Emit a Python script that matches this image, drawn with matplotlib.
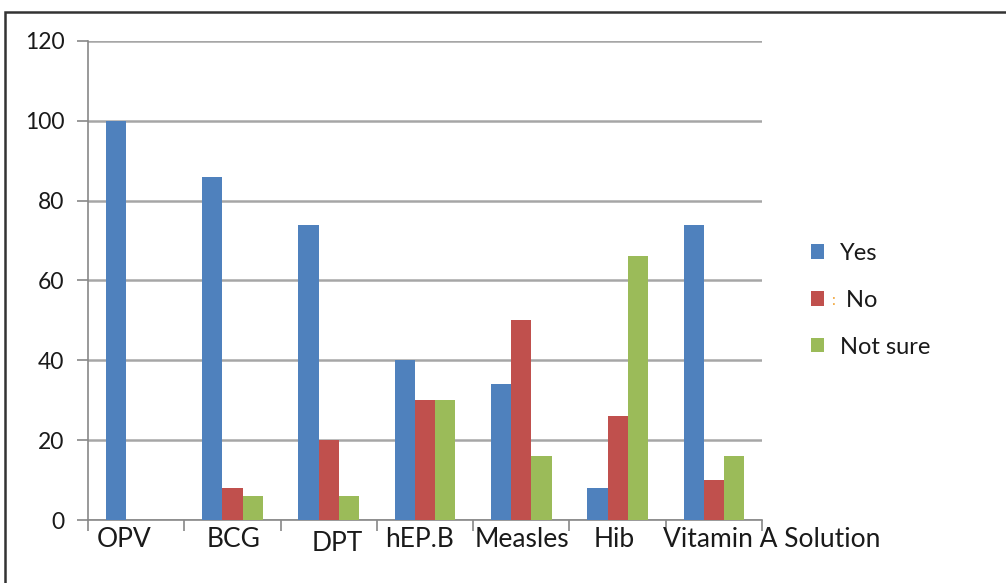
import matplotlib
matplotlib.use("Agg")
import matplotlib.pyplot as plt
import numpy as np
from matplotlib.patches import Rectangle
import matplotlib.transforms as mtransforms

categories = ["OPV", "BCG", "DPT", "hEP.B", "Measles", "Hib", "Vitamin A Solution"]
yes = [100, 86, 74, 40, 34, 8, 74]
no = [0, 8, 20, 30, 50, 26, 10]
not_sure = [0, 6, 6, 30, 16, 66, 16]
series_names = ["Yes", " No", "Not sure"]
colors = ["#4F81BD", "#C0504D", "#9BBB59"]
yticks = [0, 20, 40, 60, 80, 100, 120]

# layout only: left edge of each category label relative to its category index,
# and extra vertical drop (points) to mimic the original's uneven placement
label_dx = [-0.407, -0.264, -0.174, -0.416, -0.481, -0.245, -0.529]
label_dy = [0, 0, -3, 0, 0, 0, 0]

plt.rcParams['font.family'] = ['Lato', 'DejaVu Sans']

fig = plt.figure(figsize=(10.06, 5.83), dpi=100)
ax = fig.add_axes([0.0875, 0.108, 0.67, 0.822])

x = np.arange(len(categories))
w = 0.21
for i, (vals, name, c) in enumerate(zip([yes, no, not_sure], series_names, colors)):
    ax.bar(x + (i - 1) * w, vals, width=w, color=c, label=name, zorder=3)

ax.set_xlim(-0.5, len(categories) - 0.5)
ax.set_ylim(0, 120)
ax.set_yticks(yticks)
ax.set_yticklabels([str(v) for v in yticks], fontsize=16.5, color="#1a1a1a")
ax.yaxis.grid(True, color="#A6A6A6", linewidth=1.8, zorder=0)
ax.set_axisbelow(True)

ax.set_xticks(np.arange(len(categories) + 1) - 0.5)
ax.set_xticklabels([])
ax.tick_params(axis='x', length=8, color="#888888", width=1.2, direction='out')
ax.tick_params(axis='y', length=8, color="#888888", width=1.2, pad=9)

for xi, (lab, dx, dy) in enumerate(zip(categories, label_dx, label_dy)):
    trans = mtransforms.offset_copy(ax.get_xaxis_transform(), fig=fig, x=0, y=-19.5 + dy, units='points')
    ax.text(xi + dx, 0, lab, transform=trans, ha='left', va='baseline',
            fontsize=19, color="#1a1a1a", clip_on=False)

for s in ["top", "right"]:
    ax.spines[s].set_visible(False)
for s in ["left", "bottom"]:
    ax.spines[s].set_color("#888888")
    ax.spines[s].set_linewidth(1.2)

leg = fig.legend(loc="center left", bbox_to_anchor=(0.806, 0.485), frameon=False,
                 fontsize=17, handlelength=0.55, handleheight=0.55,
                 labelspacing=1.1, handletextpad=0.7, borderpad=0, borderaxespad=0)
for t in leg.get_texts():
    t.set_color("#1a1a1a")

fig.text(0.826, 0.476, ":", color="#F0A030", fontsize=11)

border = Rectangle((0.005, -0.02), 1.2, 0.999, transform=fig.transFigure,
                   fill=False, edgecolor="#333333", linewidth=1.8)
fig.add_artist(border)

fig.savefig("out.png", dpi=100)
